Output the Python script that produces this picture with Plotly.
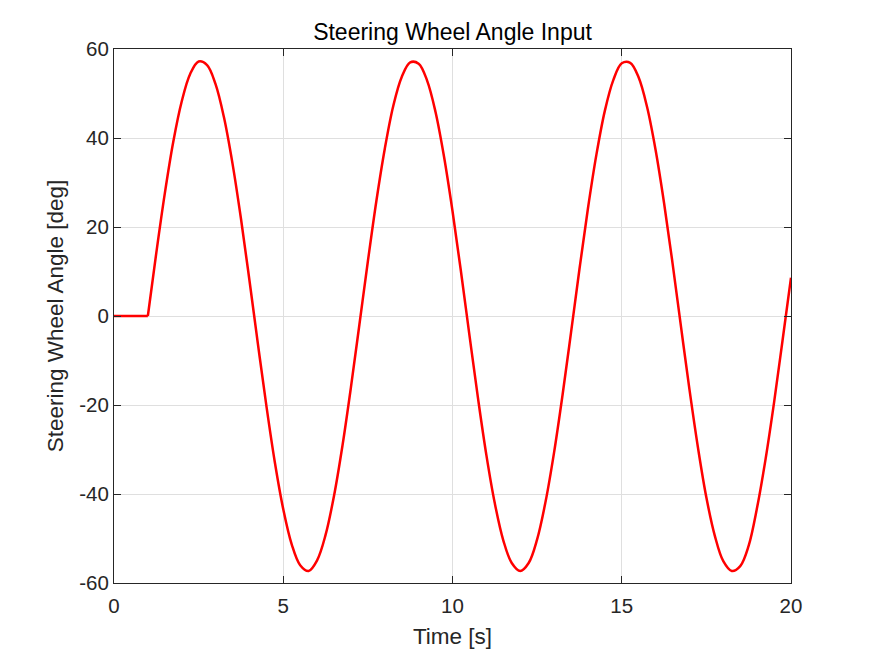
"""Steering wheel angle input, MATLAB-style figure."""
import plotly.graph_objects as go

# time [s] and steering wheel angle [deg]
t_hold = [0.0, 1.0]
a_hold = [0.0, 0.0]

t_sine = [1.0, 1.25, 1.5, 1.75, 2.0, 2.25, 2.5, 2.75, 3.0, 3.25, 3.5, 3.75,
          4.0, 4.25, 4.5, 4.75, 5.0, 5.25, 5.5, 5.75, 6.0, 6.25, 6.5, 6.75,
          7.0, 7.25, 7.5, 7.75, 8.0, 8.25, 8.5, 8.75, 9.0, 9.25, 9.5, 9.75,
          10.0, 10.25, 10.5, 10.75, 11.0, 11.25, 11.5, 11.75, 12.0, 12.25,
          12.5, 12.75, 13.0, 13.25, 13.5, 13.75, 14.0, 14.25, 14.5, 14.75,
          15.0, 15.25, 15.5, 15.75, 16.0, 16.25, 16.5, 16.75, 17.0, 17.25,
          17.5, 17.75, 18.0, 18.25, 18.5, 18.75, 19.0, 19.25, 19.5, 19.75, 20.0]
a_sine = [0.0, 14.2, 27.5, 39.1, 48.2, 54.4, 57.2, 56.4, 52.1, 44.6, 34.3, 21.9,
          8.1, -6.2, -20.1, -32.8, -43.4, -51.3, -56.0, -57.3, -54.9, -49.2, -40.4, -29.1,
          -16.0, -1.9, 12.3, 25.8, 37.6, 47.2, 53.7, 57.0, 56.7, 52.9, 45.8, 35.8,
          23.6, 10.0, -4.3, -18.3, -31.2, -42.1, -50.4, -55.5, -57.3, -55.5,
          -50.2, -41.7, -30.7, -17.8, -3.8, 10.5, 24.1, 36.2, 46.1, 53.0,
          56.8, 56.9, 53.6, 46.9, 37.3, 25.4, 11.9, -2.4, -16.5, -29.5,
          -40.8, -49.4, -55.1, -57.3, -56.2, -51.6, -43.0, -32.1, -19.4, -5.5, 8.6]

x_ticks = [0, 5, 10, 15, 20]
y_ticks = [-60, -40, -20, 0, 20, 40, 60]

FONT = "Liberation Sans, Arial, sans-serif"
INK = "#262626"

fig = go.Figure()
fig.add_scatter(x=t_hold, y=a_hold, mode="lines", showlegend=False,
                line=dict(color="#ff0000", width=2.5))
fig.add_scatter(x=t_sine, y=a_sine, mode="lines", showlegend=False,
                line=dict(color="#ff0000", width=2.5, shape="spline", smoothing=1.0))

axis = dict(showline=True, linecolor=INK, linewidth=1, mirror="ticks",
            ticks="inside", ticklen=7, tickcolor=INK, showgrid=True,
            gridcolor="#dfdfdf", gridwidth=1, zeroline=False,
            tickfont=dict(family=FONT, size=20.5, color=INK))

# page body has an 8px margin, so the figure is 8px smaller on each side
fig.update_layout(
    width=867, height=648, plot_bgcolor="white", paper_bgcolor="white",
    margin=dict(l=106, r=84, t=41, b=73),
    font=dict(family=FONT, size=20.5, color=INK),
    title=dict(text="Steering Wheel Angle Input", x=0.5, xref="paper",
               y=1 - 24 / 648, yref="container", yanchor="middle",
               font=dict(family=FONT, size=23, color="black")),
    xaxis=dict(range=[0, 20], tickvals=x_ticks, ticktext=[str(v) for v in x_ticks],
               ticklabelstandoff=4,
               title=dict(text="Time [s]", standoff=12,
                          font=dict(family=FONT, size=22.5, color=INK)),
               **axis),
    yaxis=dict(range=[-60, 60], tickvals=y_ticks, ticktext=[str(v) for v in y_ticks],
               title=dict(text="Steering Wheel Angle [deg]", standoff=9,
                          font=dict(family=FONT, size=22.5, color=INK)),
               **axis),
)

fig.write_html("out.html")
